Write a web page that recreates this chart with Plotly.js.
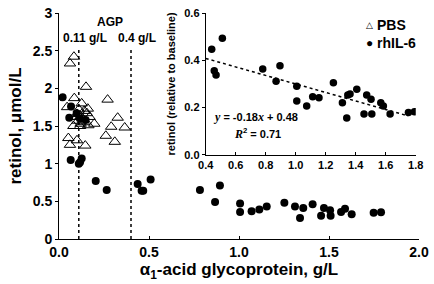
<!DOCTYPE html>
<html>
<head>
<meta charset="utf-8">
<script src="https://cdn.plot.ly/plotly-3.0.1.min.js"></script>
<style>html,body{margin:0;padding:0;background:#fff;}#chart{width:434px;height:284px;}</style>
</head>
<body>
<div id="chart"></div>
<script>
// Main panel: PBS (open triangles)
const pbsAGP = [0.061,0.083,0.15,0.085,0.27,0.045,0.126,0.16,0.14,0.11,0.10,0.12,0.155,0.13,0.105,0.14,0.326,0.08,0.117,0.163,0.196,0.29,0.365,0.052,0.10,0.26,0.31,0.061,0.146,0.095,0.17,0.12];
const pbsRetinol = [2.33,2.42,2.02,1.87,1.85,1.75,1.80,1.73,1.70,1.72,1.66,1.63,1.67,1.60,1.57,1.55,1.61,1.50,1.50,1.51,1.53,1.49,1.48,1.34,1.31,1.37,1.29,1.25,1.24,1.62,1.62,1.53];
// Main panel: rhIL-6 (filled circles)
const il6AGP = [0.02,0.067,0.057,0.098,0.117,0.148,0.065,0.117,0.126,0.11,0.204,0.265,0.437,0.459,0.468,0.509,0.783,0.867,0.894,1.006,1.006,1.07,1.113,1.154,1.252,1.311,1.339,1.357,1.409,1.456,1.472,1.506,1.509,1.567,1.589,1.626,1.748,1.789];
const il6Retinol = [1.88,1.76,1.61,1.67,1.60,1.58,1.05,1.02,1.07,1.00,0.77,0.65,0.73,0.64,0.64,0.79,0.65,0.49,0.71,0.47,0.36,0.37,0.39,0.43,0.48,0.43,0.28,0.41,0.46,0.31,0.41,0.38,0.31,0.36,0.40,0.33,0.35,0.355];
// Inset: retinol relative to baseline vs AGP
const insetAGP = [0.44,0.511,0.457,0.469,0.78,0.895,0.869,1.007,1.007,1.073,1.113,1.155,1.251,1.311,1.34,1.347,1.362,1.407,1.455,1.473,1.502,1.507,1.567,1.584,1.629,1.751,1.791];
const insetRel = [0.447,0.493,0.356,0.338,0.363,0.377,0.311,0.290,0.228,0.207,0.246,0.242,0.305,0.221,0.156,0.253,0.258,0.278,0.173,0.253,0.235,0.173,0.221,0.207,0.173,0.179,0.183];
// Regression in inset
const fitSlope = -0.18, fitIntercept = 0.48, fitR2 = 0.71, fitRange = [0.4, 1.75];
// AGP cut-offs (g/L)
const agpCutoffs = [0.11, 0.4];
const agpCutoffLabels = ['0.11 g/L', '0.4 g/L'];
const mainXTicks = [0, 0.5, 1.0, 1.5, 2.0];
const mainYTicks = [0, 0.5, 1, 1.5, 2, 2.5, 3];
const insetXTicks = [0.4,0.6,0.8,1.0,1.2,1.4,1.6,1.8];
const insetYTicks = [0.0,0.2,0.4,0.6];
const seriesNames = ['PBS', 'rhIL-6'];

const FF = '"Liberation Sans", Arial, Helvetica, sans-serif';
const bold = (s, c) => ({family: FF, size: s, color: c || '#000', weight: 'bold'});

const traces = [
  {x: pbsAGP, y: pbsRetinol, type: 'scatter', mode: 'markers', name: seriesNames[0],
   marker: {symbol: 'triangle-up-open', size: 10, color: '#000', line: {width: 1, color: '#000'}}, xaxis: 'x', yaxis: 'y'},
  {x: il6AGP, y: il6Retinol, type: 'scatter', mode: 'markers', name: seriesNames[1],
   marker: {symbol: 'circle', size: 8, color: '#000'}, xaxis: 'x', yaxis: 'y'},
  {x: fitRange, y: fitRange.map(v => fitSlope * v + fitIntercept), type: 'scatter', mode: 'lines',
   line: {color: '#000', width: 1.5, dash: 'dot'}, xaxis: 'x2', yaxis: 'y2', hoverinfo: 'skip'},
  {x: insetAGP, y: insetRel, type: 'scatter', mode: 'markers', name: seriesNames[1] + ' (inset)',
   marker: {symbol: 'circle', size: 7.5, color: '#000'}, xaxis: 'x2', yaxis: 'y2'}
];

const shapes = agpCutoffs.map(v => ({type: 'line', xref: 'x', yref: 'y', x0: v, x1: v, y0: 0, y1: 2.53,
  line: {color: '#000', width: 1.5, dash: 'dot'}}));

const ann = (text, x, y, font, xanchor) => ({text: text, xref: 'paper', yref: 'paper', x: x, y: y, showarrow: false,
  font: font, xanchor: xanchor || 'center', yanchor: 'middle'});

const it = s => '<span style="font-family:\'Liberation Serif\',serif;font-style:italic;font-size:12px">' + s + '</span>';

const annotations = [
  ann('AGP', 0.142, 0.96, bold(12)),
  ann(agpCutoffLabels[0], 0.072, 0.89, bold(12)),
  ann(agpCutoffLabels[1], 0.216, 0.89, bold(12)),
  ann('△', 0.862, 0.948, {family: FF, size: 9, color: '#000'}),
  ann(seriesNames[0], 0.877, 0.946, bold(14), 'left'),
  ann('●', 0.862, 0.868, {family: FF, size: 12, color: '#000'}),
  ann(seriesNames[1], 0.877, 0.866, bold(14), 'left'),
  ann(it('y') + ' = ' + fitSlope.toFixed(2) + it('x') + ' + ' + fitIntercept.toFixed(2), 0.547, 0.54, bold(11)),
  ann(it('R') + '<sup>2</sup> = ' + fitR2.toFixed(2), 0.55, 0.468, bold(11))
];

const axisBase = {showgrid: false, zeroline: false, showline: true, linecolor: '#000', linewidth: 1, tickcolor: '#000', ticklen: 3, tickwidth: 1};

const layout = {
  width: 434, height: 284,
  margin: {l: 59, r: 15, t: 13, b: 45},
  paper_bgcolor: '#fff', plot_bgcolor: 'rgba(0,0,0,0)',
  showlegend: false,
  font: {family: FF, color: '#000'},
  xaxis: Object.assign({}, axisBase, {range: [0, 2], tickvals: mainXTicks, tickformat: '.1f', ticks: 'inside',
    tickfont: bold(14), title: {text: 'α<sub>1</sub>-acid glycoprotein, g/L', font: bold(17), standoff: 4}}),
  yaxis: Object.assign({}, axisBase, {range: [0, 3], tickvals: mainYTicks, ticks: 'outside',
    tickfont: bold(14), title: {text: 'retinol, μmol/L', font: bold(17), standoff: 6}}),
  xaxis2: Object.assign({}, axisBase, {domain: [0.4075, 0.991], anchor: 'y2', range: [0.4, 1.8], tickvals: insetXTicks, tickformat: '.1f', ticks: 'inside',
    tickfont: bold(11)}),
  yaxis2: Object.assign({}, axisBase, {domain: [0.372, 1], anchor: 'x2', range: [0, 0.6], tickvals: insetYTicks, tickformat: '.1f', ticks: 'outside',
    tickfont: bold(11), title: {text: 'retinol (relative to baseline)', font: bold(11), standoff: 6}}),
  shapes: shapes,
  annotations: annotations
};

Plotly.newPlot('chart', traces, layout, {staticPlot: true, displayModeBar: false});
</script>
</body>
</html>
